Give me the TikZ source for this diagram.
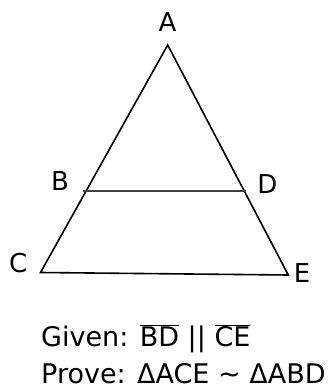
\documentclass[tikz,border=0pt]{standalone}
\usepackage{fontspec}
\setmainfont{DejaVu Sans}
\usetikzlibrary{positioning}
\tikzset{
  side/.style={line width=1.6pt, draw=black, line join=miter},
  mid/.style={line width=1.6pt, draw=black!75},
  vlbl/.style={font=\fontsize{26}{30}\selectfont, inner sep=0pt},
  note/.style={font=\fontsize{27}{32}\selectfont, inner sep=0pt, anchor=base west}
}
\newcommand{\segm}[1]{$\overline{\mbox{#1}}$}

\begin{document}
\begin{tikzpicture}[x=1pt,y=-1pt]
  \useasboundingbox (0,0) rectangle (330,389);
  % corners of the big triangle and the cut points
  \coordinate (a) at (167.7,45);
  \coordinate (c) at (40.5,272.5);
  \coordinate (e) at (288.3,275);
  \coordinate (b) at (83,190.7);
  \coordinate (d) at (245.5,190.7);

  \draw[side] (c) -- (a) -- (e) -- cycle;
  \draw[mid] (b) -- (d);

  \node[vlbl] (la) at (167.5,21.7) {A};
  \node[vlbl] (lb) at (60,181.5) {B};
  \node[vlbl] (ld) at (267.5,183.7) {D};
  \node[vlbl] (lc) at (18.3,263.3) {C};
  \node[vlbl] (le) at (302,273.3) {E};

  \node[note] (given) at (41,346.5) {Given: \segm{BD} || \segm{CE}};
  \node[note] (prove) at (41,383.5) {Prove: ΔACE \char`\~{} ΔABD};
\end{tikzpicture}
\end{document}
